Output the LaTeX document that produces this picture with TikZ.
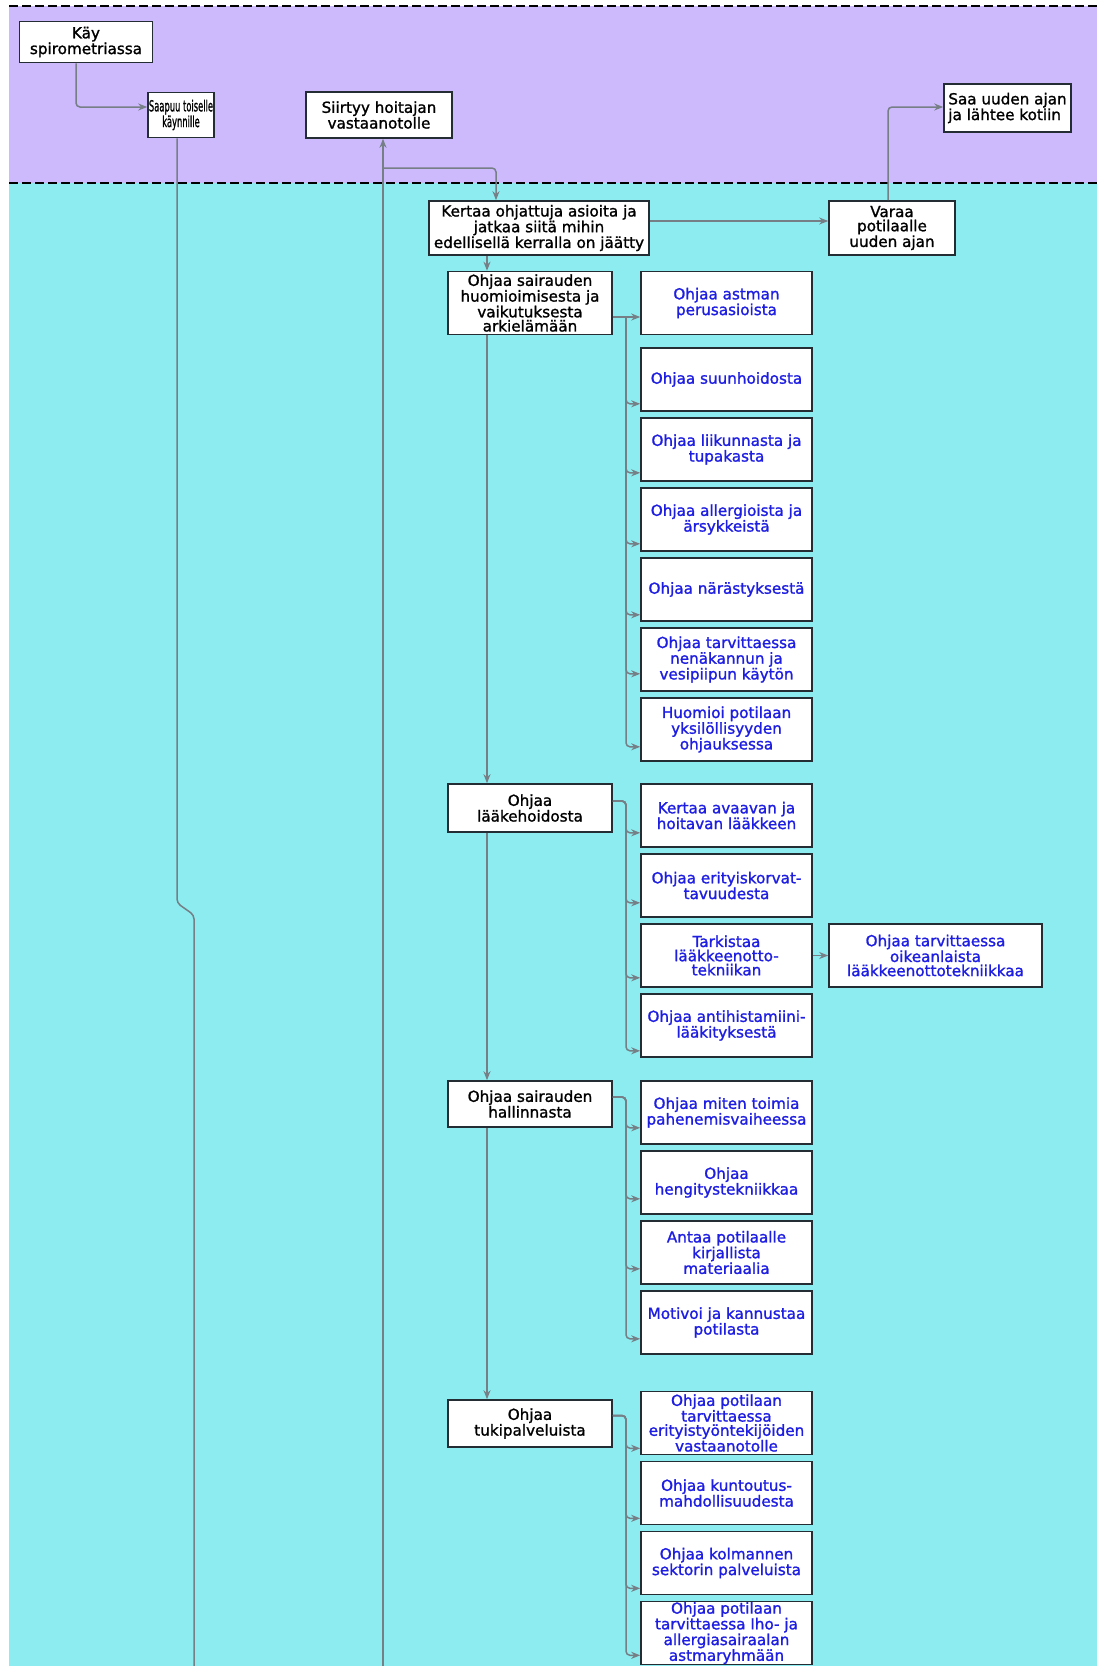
\documentclass[tikz,border=0pt]{standalone}
\usepackage{fontspec}
\setmainfont{DejaVu Sans}
\newfontfamily\boxfont{DejaVu Sans}[FakeBold=1.3]
\usetikzlibrary{arrows.meta,positioning}
\definecolor{lilac}{RGB}{204,186,252}
\definecolor{aqua}{RGB}{140,236,240}
\definecolor{inkblue}{RGB}{30,30,226}
\definecolor{wire}{RGB}{118,126,134}
\definecolor{rim}{RGB}{36,44,52}

\begin{document}
\begin{tikzpicture}[x=1pt,y=-1pt,>={Stealth[length=9pt,width=7pt]},node distance=70pt,
    link/.style={draw=wire,line width=1.5pt,rounded corners=4pt},
    task/.style={draw=rim,fill=white,line width=1.6pt,inner sep=0pt,align=center,font=\boxfont\fontsize{15.2}{14.2}\selectfont},
    sub/.style={task,text=inkblue,minimum width=171pt,minimum height=63pt},
    lane/.style={draw=black,line width=2.5pt,dash pattern=on 9pt off 4pt}]

    \useasboundingbox (0,0) rectangle (1097,1666);
    \fill[white] (0,0) rectangle (1097,1666);
    \fill[lilac] (9,6) rectangle (1097,183);
    \fill[aqua] (9,183) rectangle (1097,1666);
    \draw[lane] (9,6) -- (1097,6);
    \draw[lane] (9,183) -- (1097,183);

    % patient lane
    \node[task,minimum width=133pt,minimum height=41pt] (kay) at (86,42) {Käy\\spirometriassa};
    \node[task,minimum width=66pt,minimum height=45pt] (saapuu) at (181,115) {\scalebox{0.55}[1]{Saapuu toiselle}\\\scalebox{0.55}[1]{käynnille}};
    \node[task,minimum width=146pt,minimum height=46pt] (siirtyy) at (379,115) {Siirtyy hoitajan\\vastaanotolle};
    \node[task,align=left,minimum width=127pt,minimum height=48pt] (saa) at (1007.5,108) {Saa uuden ajan\\ja lähtee kotiin};

    % nurse lane
    \node[task,minimum width=220pt,minimum height=54pt] (kertaa) at (539,228) {Kertaa ohjattuja asioita ja\\jatkaa siitä mihin\\edellisellä kerralla on jäätty};
    \node[task,minimum width=126pt,minimum height=54pt] (varaa) at (892,228) {Varaa\\potilaalle\\uuden ajan};
    \node[task,minimum width=164pt,minimum height=63pt] (sairauden) at (530,303) {Ohjaa sairauden\\huomioimisesta ja\\vaikutuksesta\\arkielämään};
    \node[task,minimum width=164pt,minimum height=48pt] (laake) at (530,808) {Ohjaa\\lääkehoidosta};
    \node[task,minimum width=164pt,minimum height=46pt] (hall) at (530,1104) {Ohjaa sairauden\\hallinnasta};
    \node[task,minimum width=164pt,minimum height=47pt] (tuki) at (530,1423.5) {Ohjaa\\tukipalveluista};

    \node[sub] (AS) at (726.5,303) {Ohjaa astman\\perusasioista};
    \node[sub] (SU) [below of=AS,node distance=76.5pt] {Ohjaa suunhoidosta};
    \node[sub] (LI) [below of=SU] {Ohjaa liikunnasta ja\\tupakasta};
    \node[sub] (AL) [below of=LI] {Ohjaa allergioista ja\\ärsykkeistä};
    \node[sub] (NA) [below of=AL] {Ohjaa närästyksestä};
    \node[sub] (NE) [below of=NA] {Ohjaa tarvittaessa\\nenäkannun ja\\vesipiipun käytön};
    \node[sub] (HU) [below of=NE] {Huomioi potilaan\\yksilöllisyyden\\ohjauksessa};

    \node[sub] (KA) at (726.5,815.5) {Kertaa avaavan ja\\hoitavan lääkkeen};
    \node[sub] (ER) [below of=KA] {Ohjaa erityiskorvat-\\tavuudesta};
    \node[sub] (TA) [below of=ER] {Tarkistaa\\lääkkeenotto-\\tekniikan};
    \node[sub] (AH) [below of=TA] {Ohjaa antihistamiini-\\lääkityksestä};
    \node[sub,minimum width=213pt] (oikea) [right of=TA,node distance=209pt] {Ohjaa tarvittaessa\\oikeanlaista\\lääkkeenottotekniikkaa};

    \node[sub] (PA) at (726.5,1112.5) {Ohjaa miten toimia\\pahenemisvaiheessa};
    \node[sub] (HE) [below of=PA] {Ohjaa\\hengitystekniikkaa};
    \node[sub] (AN) [below of=HE] {Antaa potilaalle\\kirjallista\\materiaalia};
    \node[sub] (MO) [below of=AN] {Motivoi ja kannustaa\\potilasta};

    \node[sub] (ET) at (726.5,1423) {Ohjaa potilaan\\tarvittaessa\\erityistyöntekijöiden\\vastaanotolle};
    \node[sub] (KU) [below of=ET] {Ohjaa kuntoutus-\\mahdollisuudesta};
    \node[sub] (KO) [below of=KU] {Ohjaa kolmannen\\sektorin palveluista};
    \node[sub] (IH) [below of=KO] {Ohjaa potilaan\\tarvittaessa Iho- ja\\allergiasairaalan\\astmaryhmään};

    % connectors
    \coordinate (kaydrop) at (76,0);
    \coordinate (sjog1) at (177,903);
    \coordinate (sjog2) at (194,915);
    \coordinate (sbottom) at (194,1666);
    \coordinate (hsplit) at (383,168);
    \coordinate (hbottom) at (383,1666);
    \coordinate (kdrop) at (496,0);
    \coordinate (vup) at (888,0);
    \coordinate (trunk) at (487,0);
    \coordinate (bus) at (626,0);

    \draw[link,->] (kay.south -| kaydrop) |- ([yshift=8pt]saapuu.west);
    \draw[link] (saapuu.south -| sjog1) -- (sjog1) -- (sjog2) -- (sbottom);
    \draw[link,->] (hbottom) -- (siirtyy.south -| hbottom);
    \draw[link,->] (hsplit) -| (kertaa.north -| kdrop);
    \draw[link,->] ([yshift=7pt]kertaa.east) -- ([yshift=7pt]varaa.west);
    \draw[link,->] (varaa.north -| vup) |- ([yshift=1pt]saa.west);

    \draw[link,->] (kertaa.south -| trunk) -- (sairauden.north -| trunk);
    \draw[link,->] (sairauden.south -| trunk) -- (laake.north -| trunk);
    \draw[link,->] (laake.south -| trunk) -- (hall.north -| trunk);
    \draw[link,->] (hall.south -| trunk) -- (tuki.north -| trunk);

    \coordinate (sout) at ([yshift=-14pt]sairauden.east);
    \draw[link,->] (sout) -- (sout -| AS.west);
    \foreach \c/\h in {SU/8,LI/9,AL/8,NA/7,NE/18,HU/15}{
        \coordinate (tip) at ([yshift=\h pt]\c.south west);
        \draw[link,->] (sout -| bus) |- (tip);
    }
    \coordinate (lout) at ([yshift=7pt]laake.east);
    \foreach \c/\h in {KA/15,ER/15,TA/10,AH/7}{
        \coordinate (tip) at ([yshift=\h pt]\c.south west);
        \draw[link,->] (lout) -| (bus |- tip) -- (tip);
    }
    \draw[link,->] (TA.east) -- (oikea.west);
    \coordinate (hout) at ([yshift=7pt]hall.east);
    \foreach \c/\h in {PA/17,HE/16,AN/16,MO/16}{
        \coordinate (tip) at ([yshift=\h pt]\c.south west);
        \draw[link,->] (hout) -| (bus |- tip) -- (tip);
    }
    \coordinate (tout) at ([yshift=8pt]tuki.east);
    \foreach \c/\h in {ET/7,KU/7,KO/7,IH/10}{
        \coordinate (tip) at ([yshift=\h pt]\c.south west);
        \draw[link,->] (tout) -| (bus |- tip) -- (tip);
    }
\end{tikzpicture}
\end{document}
